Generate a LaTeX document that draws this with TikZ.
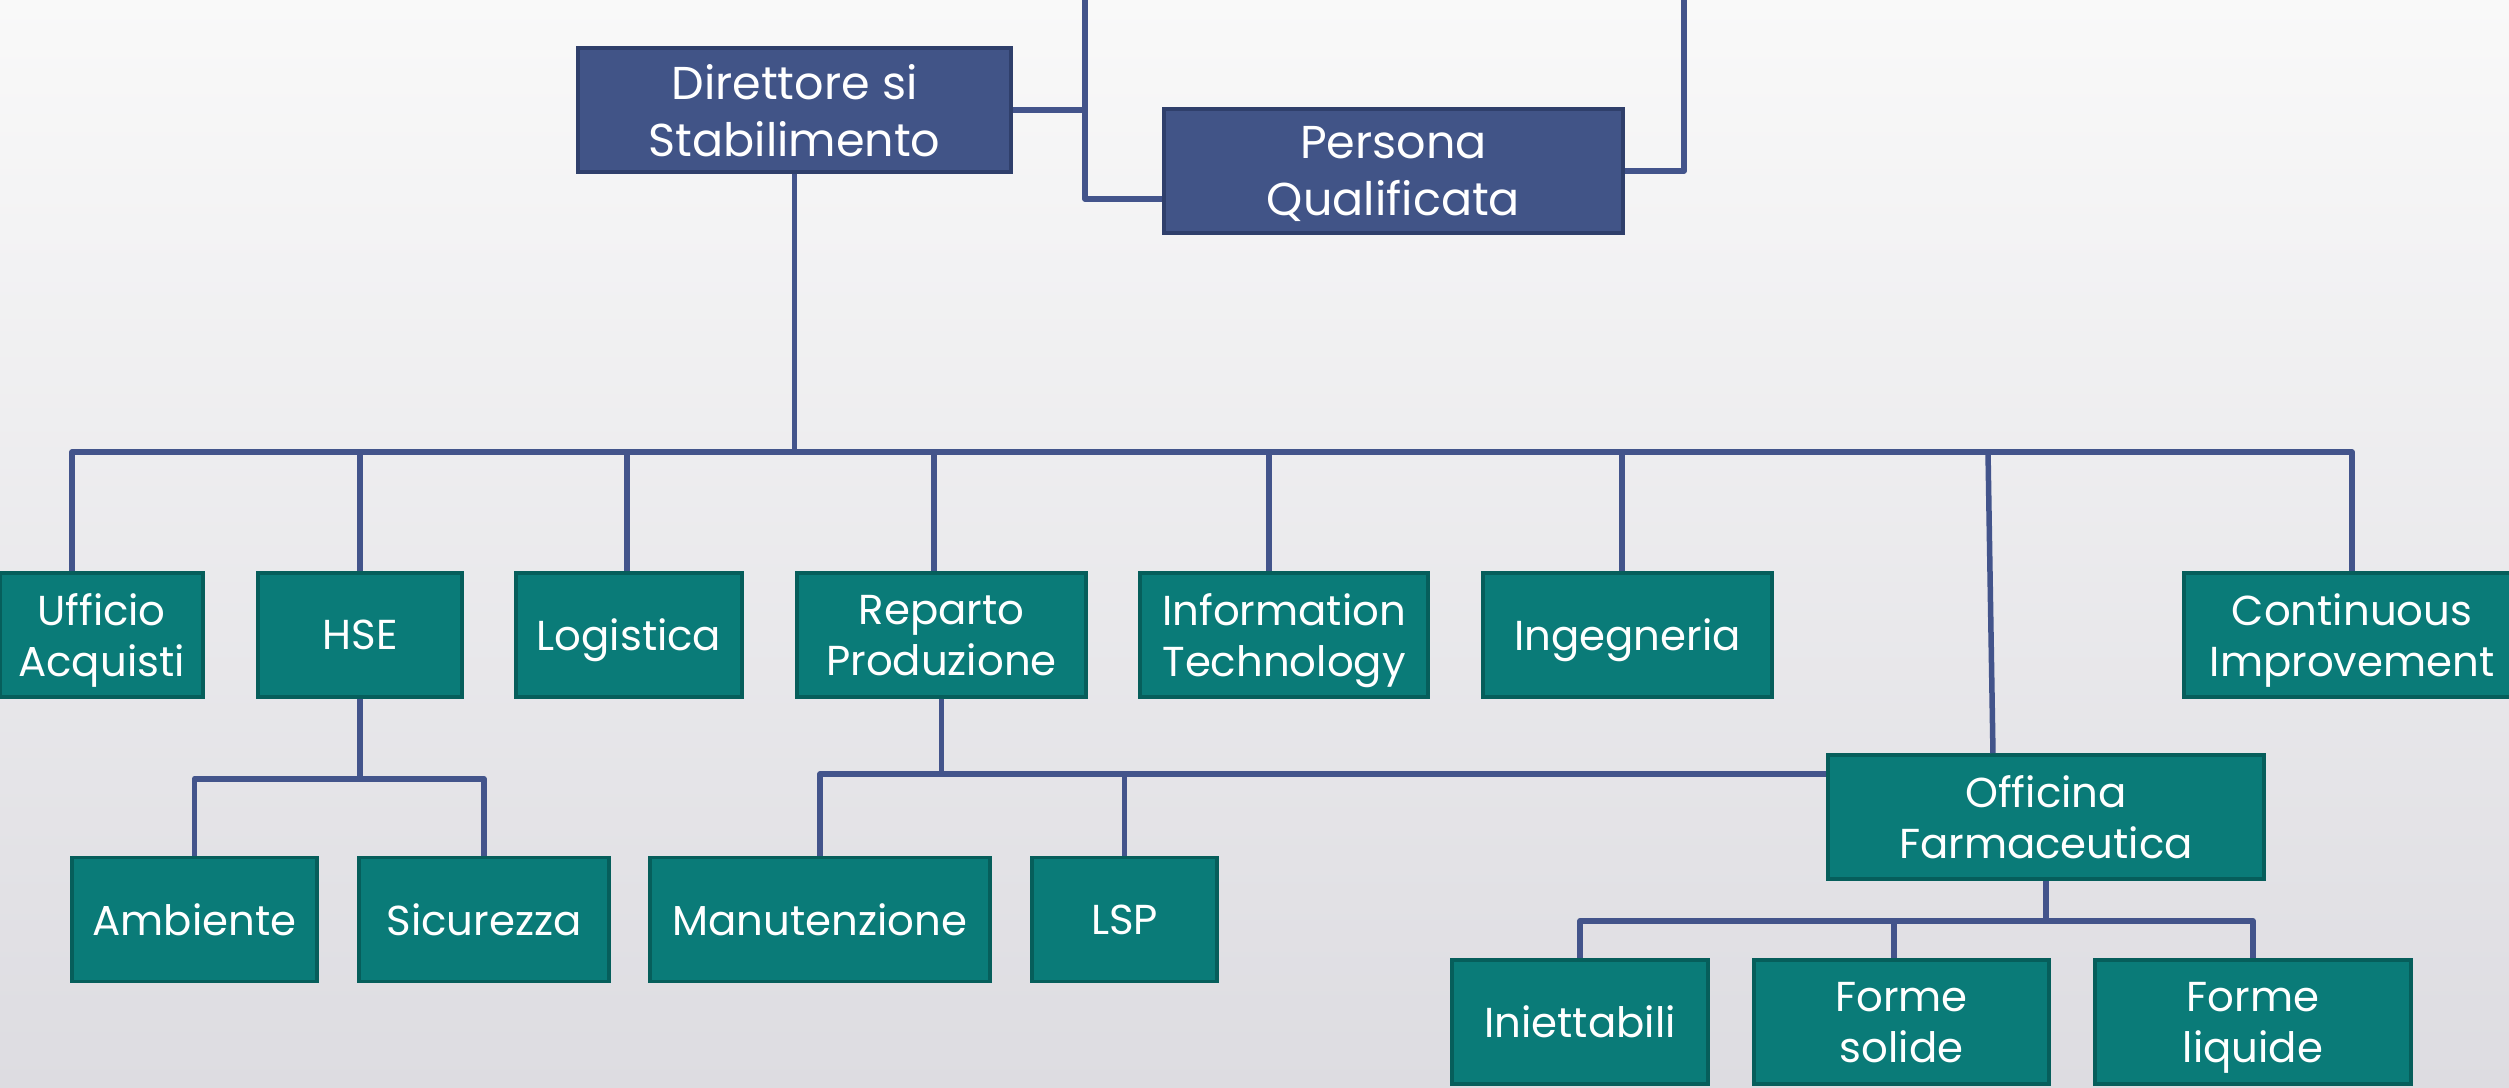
\documentclass[tikz,border=0pt]{standalone}
\usepackage{fontspec}
\setmainfont{Poppins}
\definecolor{navyfill}{HTML}{415487}
\definecolor{navyedge}{HTML}{2F3F6B}
\definecolor{tealfill}{HTML}{0A7B78}
\definecolor{tealedge}{HTML}{065E5B}
\definecolor{linkcol}{HTML}{43548B}
\definecolor{bgtop}{HTML}{F9F9F9}
\definecolor{bgbot}{HTML}{DDDCE1}
\tikzset{
  basebox/.style={rectangle, inner sep=0pt, align=center, text=white, text depth=0pt, line width=0.035cm, minimum height=1.24cm},
  navybox/.style={basebox, fill=navyfill, draw=navyedge, font=\fontsize{13.1pt}{16.2pt}\selectfont},
  tealbox/.style={basebox, fill=tealfill, draw=tealedge, font=\fontsize{11.9pt}{14.5pt}\selectfont},
  conn/.style={draw=linkcol, line width=0.055cm, line join=round}
}
\begin{document}
\begin{tikzpicture}[x=0.01cm, y=-0.01cm]
\useasboundingbox (0,0) rectangle (2509,1088);
\clip (0,0) rectangle (2509,1088);
\shade[top color=bgtop, bottom color=bgbot] (0,0) rectangle (2509,1088);

% top level
\node[navybox, minimum width=4.33cm] (dir) at (794.5,110) {Direttore si\\Stabilimento};
\node[navybox, minimum width=4.59cm] (pq) at (1393.5,171) {Persona\\Qualificata};

% first row
\node[tealbox, minimum width=2.03cm] (uff) at (101.5,635) {Ufficio\\Acquisti};
\node[tealbox, minimum width=2.04cm] (hse) at (360,635) {HSE};
\node[tealbox, minimum width=2.26cm] (log) at (629,635) {Logistica};
\node[tealbox, minimum width=2.89cm] (rep) at (941.5,635) {Reparto\\Produzione};
\node[tealbox, minimum width=2.88cm] (it) at (1284,635) {Information\\Technology};
\node[tealbox, minimum width=2.89cm] (ing) at (1627.5,635) {Ingegneria};
\node[tealbox, minimum width=3.36cm] (ci) at (2352,635) {Continuous\\Improvement};

% second row
\node[tealbox, minimum width=4.36cm] (off) at (2046,817) {Officina\\Farmaceutica};
\node[tealbox, minimum width=2.45cm] (amb) at (194.5,919.5) {Ambiente};
\node[tealbox, minimum width=2.50cm] (sic) at (484,919.5) {Sicurezza};
\node[tealbox, minimum width=3.40cm] (man) at (820,919.5) {Manutenzione};
\node[tealbox, minimum width=1.85cm] (lsp) at (1124.5,919.5) {LSP};

% third row
\node[tealbox, minimum width=2.56cm] (ini) at (1580,1022) {Iniettabili};
\node[tealbox, minimum width=2.95cm] (fs) at (1901.5,1022) {Forme\\solide};
\node[tealbox, minimum width=3.16cm] (fl) at (2253,1022) {Forme\\liquide};

% junction coordinates
\coordinate (topL) at (1085,0);
\coordinate (topR) at (1684,0);
\coordinate (pqL) at ([yshift=-0.28cm]pq.west);
\coordinate (bL) at (72,452);
\coordinate (bR) at (2352,452);
\coordinate (offbus) at (1988,452);
\coordinate (offtop) at ([xshift=-0.53cm]off.north);
\coordinate (hJ) at ([yshift=-0.80cm]hse.south);
\coordinate (rJ) at ([yshift=-0.21cm]off.north west);
\coordinate (oJ) at ([yshift=-0.40cm]off.south);

% top connectors
\draw[conn] (dir.east) -- (dir.east -| topL);
\draw[conn] (topL) |- (pqL);
\draw[conn] (pq.east) -| (topR);

% main bus
\draw[conn] (dir.south) -- (dir.south |- bL);
\draw[conn] (uff.north -| bL) -- (bL) -- (bR) -- (ci.north);
\draw[conn] (hse.north) -- (hse.north |- bL);
\draw[conn] ([xshift=-0.02cm]log.north) -- ([xshift=-0.02cm]log.north |- bL);
\draw[conn] ([xshift=-0.075cm]rep.north) -- ([xshift=-0.075cm]rep.north |- bL);
\draw[conn] ([xshift=-0.15cm]it.north) -- ([xshift=-0.15cm]it.north |- bL);
\draw[conn] ([xshift=-0.055cm]ing.north) -- ([xshift=-0.055cm]ing.north |- bL);
\draw[conn] (offbus) -- (offtop);

% HSE branch
\draw[conn] (hse.south) -- (hJ);
\draw[conn] (amb.north) |- (hJ) -| (sic.north);

% Reparto branch
\draw[conn] (rep.south) -- (rep.south |- rJ);
\draw[conn] (man.north) |- (rJ);
\draw[conn] (lsp.north) -- (lsp.north |- rJ);

% Officina branch
\draw[conn] (off.south) -- (oJ);
\draw[conn] (ini.north) |- (oJ) -| (fl.north);
\draw[conn] ([xshift=-0.075cm]fs.north) -- ([xshift=-0.075cm]fs.north |- oJ);
\end{tikzpicture}
\end{document}
